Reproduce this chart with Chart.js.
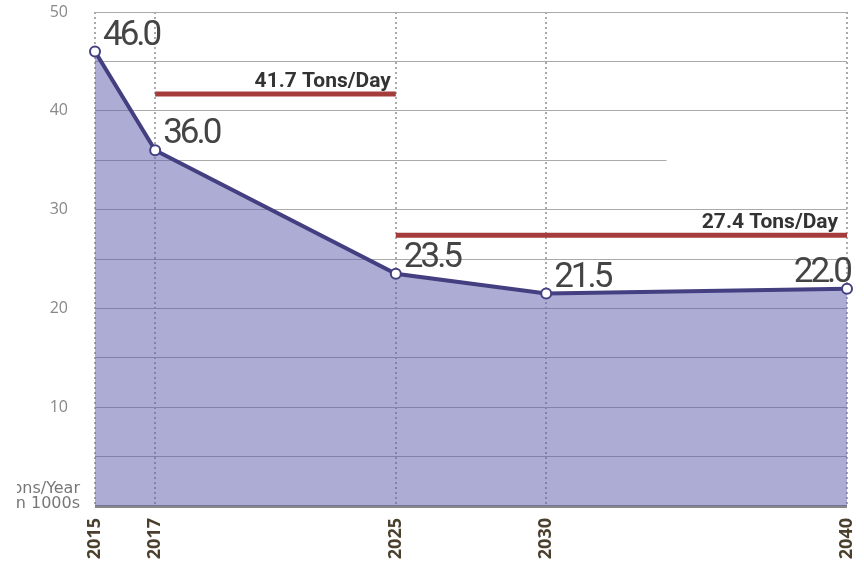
<!DOCTYPE html>
<html>
<head>
<meta charset="utf-8">
<script src="https://cdn.jsdelivr.net/npm/chart.js@4"></script>
<style>
  html, body { margin: 0; background: #fff; }
</style>
</head>
<body>
<canvas id="grafico" width="864" height="564"></canvas>
<script>
const anos = [2015, 2017, 2025, 2030, 2040];
const valores = [46.0, 36.0, 23.5, 21.5, 22.0];
const metaAnos1 = [2017, 2025];
const meta1 = 41.7;
const metaAnos2 = [2025, 2040];
const meta2 = 27.4;
const rotulosMeta = ["41.7 Tons/Day", "27.4 Tons/Day"];
const tituloEixo = ["Tons/Year", "in 1000s"];

const pontos = anos.map((ano, i) => ({ x: ano, y: valores[i] }));

// etiquetas dos pontos, das metas e o titulo do eixo
const etiquetas = {
  id: "etiquetas",
  beforeDatasetsDraw(chart) {
    const { ctx, scales: { x, y }, chartArea } = chart;
    // linha de grade dos 35 termina antes da borda
    ctx.save();
    ctx.strokeStyle = "#fff";
    ctx.lineWidth = 3;
    ctx.beginPath();
    ctx.moveTo(x.getPixelForValue(2034), y.getPixelForValue(35));
    ctx.lineTo(chartArea.right - 2, y.getPixelForValue(35));
    ctx.stroke();
    ctx.restore();
  },
  afterDatasetsDraw(chart) {
    const { ctx } = chart;
    const meta = chart.getDatasetMeta(0);
    ctx.save();
    ctx.fillStyle = "#444";
    ctx.font = "35px Roboto";
    ctx.letterSpacing = "-3px";
    ctx.textBaseline = "alphabetic";
    meta.data.forEach((p, i) => {
      const ultimo = i === meta.data.length - 1;
      ctx.textAlign = ultimo ? "right" : "left";
      ctx.fillText(valores[i].toFixed(1), ultimo ? p.x + 3 : p.x + 8, p.y - 7);
    });

    ctx.letterSpacing = "0px";
    ctx.font = "bold 21px Roboto";
    ctx.fillStyle = "#333";
    ctx.textAlign = "right";
    [1, 2].forEach((d, i) => {
      const fim = chart.getDatasetMeta(d).data[1];
      ctx.fillText(rotulosMeta[i], fim.x - (i === 0 ? 5 : 9), fim.y - 7);
    });

    // titulo do eixo cortado na margem esquerda
    ctx.beginPath();
    ctx.rect(17, 460, 80, 60);
    ctx.clip();
    ctx.font = "16px 'DejaVu Sans'";
    ctx.fillStyle = "#777";
    ctx.fillText(tituloEixo[0], 80, 493);
    ctx.fillText(tituloEixo[1], 80, 508);
    ctx.restore();
  }
};

new Chart(document.getElementById("grafico"), {
  type: "line",
  data: {
    datasets: [
      {
        data: pontos,
        borderColor: "#433f80",
        borderWidth: 4,
        backgroundColor: "rgba(91, 89, 171, 0.5)",
        fill: "origin",
        pointRadius: 5,
        pointBorderWidth: 2,
        pointBackgroundColor: "#fff",
        pointBorderColor: "#433f80",
        clip: false,
        tension: 0
      },
      {
        data: metaAnos1.map(a => ({ x: a, y: meta1 })),
        borderColor: "#a53c3c",
        borderWidth: 5,
        pointRadius: 0,
        fill: false
      },
      {
        data: metaAnos2.map(a => ({ x: a, y: meta2 })),
        borderColor: "#a53c3c",
        borderWidth: 5,
        pointRadius: 0,
        fill: false,
        clip: false
      }
    ]
  },
  options: {
    responsive: false,
    animation: false,
    layout: { padding: { top: 12, right: 17, left: 0, bottom: 0 } },
    plugins: {
      legend: { display: false },
      tooltip: { enabled: false }
    },
    scales: {
      x: {
        type: "linear",
        min: 2015,
        max: 2040,
        afterBuildTicks: s => { s.ticks = anos.map(v => ({ value: v })); },
        afterFit: s => {
          s.height = 58;
          s.paddingLeft = 0;
          s.paddingRight = 0;
        },
        ticks: {
          autoSkip: false,
          minRotation: 90,
          maxRotation: 90,
          padding: 12,
          color: "#4b3f2e",
          font: { family: "'Open Sans'", size: 18, weight: "bold" },
          callback: v => String(v)
        },
        grid: { color: "#aaa", lineWidth: 2, drawTicks: false },
        border: { display: false, dash: [2, 3] }
      },
      y: {
        min: 0,
        max: 50,
        afterFit: s => {
          s.width = 95;
          s.paddingTop = 0;
          s.paddingBottom = 0;
        },
        ticks: {
          stepSize: 5,
          padding: 27,
          color: "#888",
          font: { family: "'Open Sans'", size: 16 },
          callback: v => (v % 10 === 0 && v > 0 ? v : "")
        },
        grid: {
          color: c => (c.tick.value === 0 ? "#888" : "#aaa"),
          lineWidth: c => (c.tick.value === 0 ? 3 : 1),
          drawTicks: false
        },
        border: { display: false }
      }
    }
  },
  plugins: [etiquetas]
});
</script>
</body>
</html>
